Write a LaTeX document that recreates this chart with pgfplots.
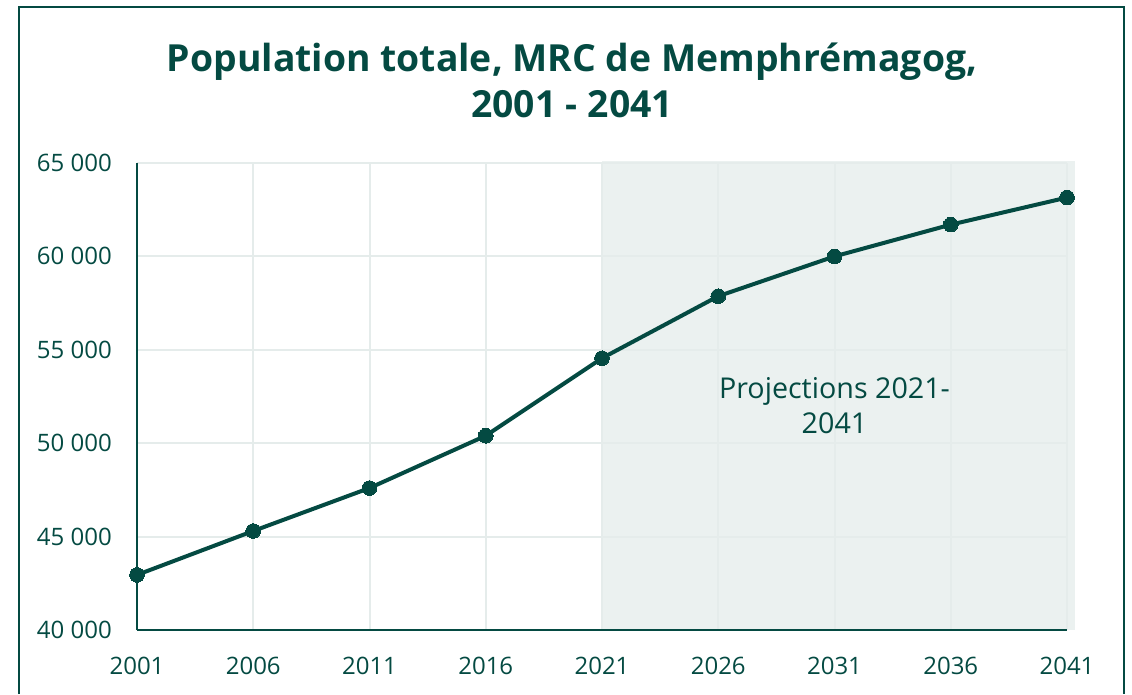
\documentclass[border=0pt]{standalone}
\usepackage{fontspec}
\setmainfont{Open Sans}
\usepackage{pgfplots}
\pgfplotsset{compat=1.18}
\definecolor{dg}{RGB}{4,74,66}
\definecolor{shade}{RGB}{235,241,240}
\definecolor{gridc}{RGB}{229,236,235}
\begin{document}
\begin{tikzpicture}
\begin{scope}[x=0.75pt,y=0.75pt]
\path[use as bounding box] (0,0) rectangle (1132,694);
\draw[dg, line width=1.5pt] (19,0) -- (19,687) -- (1124,687) -- (1124,0);
\node[dg, font=\bfseries\fontsize{28}{34.5}\selectfont, align=center] at (572,614) {Population totale, MRC de Memphrémagog,\\2001 - 2041};
\end{scope}
\begin{axis}[
  set layers,
  at={(102.75pt,48pt)}, anchor=south west,
  scale only axis, width=697.5pt, height=350.25pt,
  xmin=2001, xmax=2041, ymin=40000, ymax=65000,
  scaled y ticks=false, scaled x ticks=false,
  axis x line*=bottom, axis y line*=left,
  axis line style={dg, line width=1.5pt},
  major tick length=0pt,
  grid=major, grid style={gridc, line width=1.5pt},
  xtick={2001,2006,2011,2016,2021,2026,2031,2036,2041},
  xticklabels={2001,2006,2011,2016,2021,2026,2031,2036,2041},
  ytick={40000,45000,50000,55000,60000,65000},
  yticklabels={40 000,45 000,50 000,55 000,60 000,65 000},
  xticklabel style={dg, font=\fontsize{18}{20}\selectfont, inner sep=0pt, anchor=north, yshift=-20.25pt},
  yticklabel style={dg, font=\fontsize{18}{20}\selectfont, inner sep=0pt, anchor=east, xshift=-18.75pt},
  clip=false,
]
\addplot[fill=shade, draw=none, on layer=axis background] coordinates {
(2021,40000) (2041.35,40000) (2041.35,65100) (2021,65100)
} -- cycle;
\addplot[dg, line width=3pt, mark=*, mark size=5.5pt, mark options={fill=dg, draw=dg, line width=0pt}] coordinates {
(2001,42950) (2006,45300) (2011,47600) (2016,50400) (2021,54550)
(2026,57870) (2031,60000) (2036,61700) (2041,63150)
};
\node[dg, align=center, font=\fontsize{21.5}{26}\selectfont] at (axis cs:2031,52020) {Projections 2021-\\2041};
\end{axis}
\end{tikzpicture}
\end{document}
